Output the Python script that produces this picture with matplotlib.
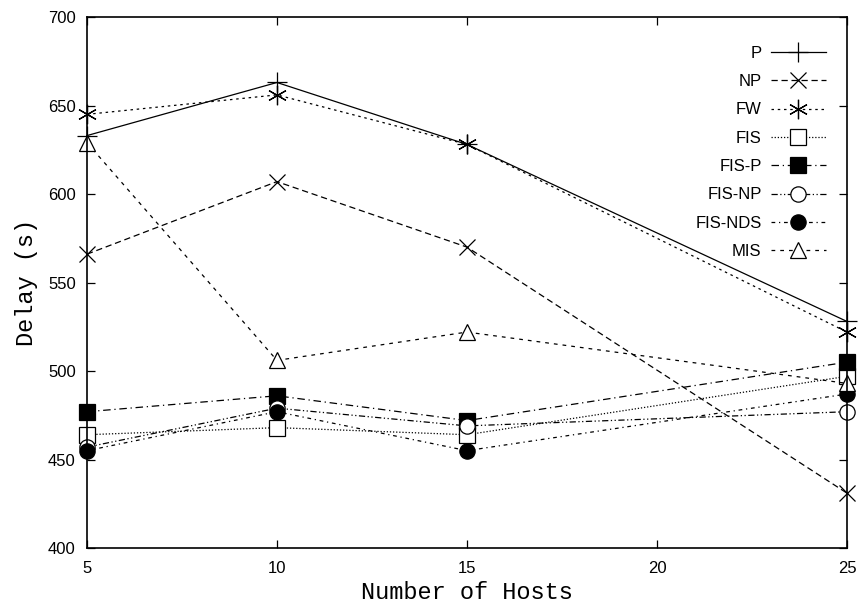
import matplotlib
matplotlib.use('Agg')
import matplotlib.pyplot as plt

plt.rcParams['font.family'] = ['Liberation Sans', 'DejaVu Sans']
plt.rcParams['font.size'] = 12

# ── data ──────────────────────────────────────────────────────────
hosts = [5, 10, 15, 25]
series_names = ["P", "NP", "FW", "FIS", "FIS-P", "FIS-NP", "FIS-NDS", "MIS"]
delay_P = [633, 663, 628, 528]
delay_NP = [566, 607, 570, 431]
delay_FW = [645, 656, 628, 522]
delay_FIS = [464, 468, 464, 497]
delay_FIS_P = [477, 486, 472, 505]
delay_FIS_NP = [457, 479, 469, 477]
delay_FIS_NDS = [455, 477, 455, 487]
delay_MIS = [629, 506, 522, 493]

xticks = [5, 10, 15, 20, 25]
yticks = [400, 450, 500, 550, 600, 650, 700]

# ── styles (gnuplot-ish line types) ───────────────────────────────
values = [delay_P, delay_NP, delay_FW, delay_FIS, delay_FIS_P,
          delay_FIS_NP, delay_FIS_NDS, delay_MIS]
styles = [
    dict(ls="-", marker="+", mfc="none", ms=14),
    dict(ls=(0, (5, 3)), marker="x", mfc="none", ms=11),
    dict(ls=(0, (2, 3)), marker=(6, 2, 0), mfc="none", ms=14),
    dict(ls=(0, (1, 1.5)), marker="s", mfc="white", ms=11),
    dict(ls=(0, (6, 3, 1, 3)), marker="s", mfc="black", ms=11),
    dict(ls=(0, (5, 2, 1, 2, 1, 2)), marker="o", mfc="white", ms=11),
    dict(ls=(0, (3, 3, 1, 3)), marker="o", mfc="black", ms=11),
    dict(ls=(0, (3, 4)), marker="^", mfc="white", ms=11),
]

fig = plt.figure(figsize=(8.67, 6.05), dpi=100)
ax = fig.add_axes([0.1003, 0.0942, 0.8766, 0.8777])

for name, vals, st in zip(series_names, values, styles):
    ax.plot(hosts, vals, color="black", lw=0.9, linestyle=st["ls"],
            marker=st["marker"], markersize=st["ms"], markerfacecolor=st["mfc"],
            markeredgecolor="black", markeredgewidth=0.9, label=name,
            clip_on=False)

ax.set_xlim(5, 25)
ax.set_ylim(400, 700)
ax.set_xticks(xticks)
ax.set_yticks(yticks)
ax.tick_params(direction="in", top=True, right=True, length=6, width=0.9,
               labelsize=12)
ax.tick_params(axis="x", pad=9)
ax.tick_params(axis="y", pad=8)
for s in ax.spines.values():
    s.set_linewidth(1.2)

ax.set_xlabel("Number of Hosts", family="Liberation Mono", fontsize=17, labelpad=4)
ax.set_ylabel("Delay (s)", family="Liberation Mono", fontsize=17, labelpad=7)

leg = ax.legend(loc="upper right", bbox_to_anchor=(0.972, 0.946),
                frameon=False, markerfirst=False, borderpad=0, borderaxespad=0,
                handlelength=3.3, labelspacing=0.80, handletextpad=0.55,
                prop={"family": "Liberation Sans", "size": 12})
for t in leg.get_texts():
    t.set_ha("right")
leg._legend_box.align = "right"

fig.savefig("out.png", dpi=100)
